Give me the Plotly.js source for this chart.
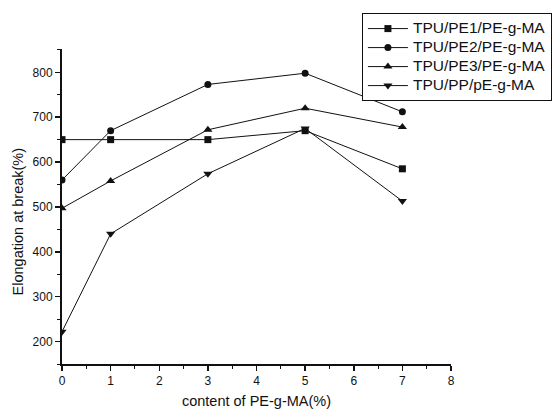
<!DOCTYPE html>
<html><head><meta charset="utf-8">
<script src="https://cdn.plot.ly/plotly-3.0.1.min.js"></script>
<style>html,body{margin:0;padding:0;background:#fff}#c{width:557px;height:410px}</style>
</head><body><div id="c"></div>
<script>
const xs = [0, 1, 3, 5, 7];
const pe1 = [650, 650, 650, 670, 585];
const pe2 = [560, 670, 773, 798, 712];
const pe3 = [497, 558, 672, 720, 678];
const pp = [222, 440, 574, 675, 513];
const names = ['TPU/PE1/PE-g-MA', 'TPU/PE2/PE-g-MA', 'TPU/PE3/PE-g-MA', 'TPU/PP/pE-g-MA'];
const series = [pe1, pe2, pe3, pp];
const symbols = ['square', 'circle', 'triangle-up', 'triangle-down'];
const sizes = [7, 7, 8, 8];
const FONT = 'Liberation Sans, Arial, sans-serif';
const traces = series.map((s, i) => ({
  x: xs, y: s, name: '<span style="font-size:15.5px">' + names[i] + '</span>',
  type: 'scatter', mode: 'lines+markers',
  line: {color: '#111', width: 1},
  marker: {symbol: symbols[i], size: sizes[i], color: '#111'}
}));
const axisCommon = {
  showline: true, linecolor: '#111', linewidth: 2, ticks: 'outside', ticklen: 5, tickwidth: 1.5,
  tickcolor: '#111', showgrid: false, zeroline: false, mirror: false,
  tickfont: {family: FONT, size: 12, color: '#111'}
};
const layout = {
  width: 557, height: 410,
  margin: {l: 62, r: 106, t: 49, b: 46, autoexpand: false},
  paper_bgcolor: '#fff', plot_bgcolor: '#fff',
  font: {family: FONT, color: '#111'},
  xaxis: Object.assign({}, axisCommon, {
    range: [0, 8], dtick: 1, tick0: 0,
    minor: {dtick: 0.5, ticklen: 3, tickwidth: 1, tickcolor: '#111', ticks: 'outside'},
    title: {text: 'content of PE-g-MA(%)', font: {size: 14.5, family: FONT}, standoff: 8}
  }),
  yaxis: Object.assign({}, axisCommon, {
    range: [150, 852], dtick: 100, tick0: 200,
    minor: {dtick: 50, ticklen: 3, tickwidth: 1, tickcolor: '#111', ticks: 'outside'}
  }),
  annotations: [{
    text: 'Elongation at break(%)', xref: 'paper', yref: 'paper',
    x: -0.112, y: 0.454, xanchor: 'center', yanchor: 'middle', textangle: -90,
    showarrow: false, font: {size: 14.5, family: FONT, color: '#111'}
  }],
  showlegend: true,
  legend: {
    x: 0.771, y: 1.114, xanchor: 'left', yanchor: 'top',
    bordercolor: '#111', borderwidth: 1, bgcolor: '#fff',
    font: {size: 12, family: FONT, color: '#111'},
    tracegroupgap: 0, itemwidth: 40
  }
};
Plotly.newPlot('c', traces, layout, {displayModeBar: false, staticPlot: true});
</script></body></html>
